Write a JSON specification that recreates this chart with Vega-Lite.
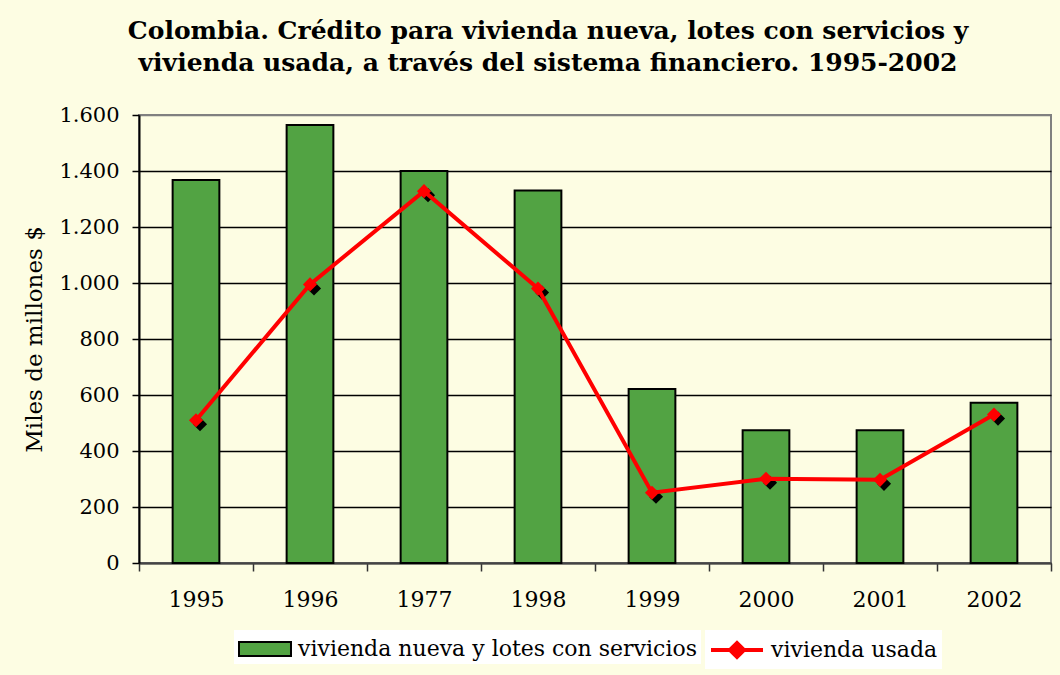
{
  "$schema": "https://vega.github.io/schema/vega-lite/v6.json",
  "autosize": "none",
  "width": 912,
  "height": 448,
  "padding": {"left": 139, "top": 115, "right": 9, "bottom": 112},
  "background": "#fdfde3",
  "config": {
    "font": "DejaVu Serif",
    "view": {"stroke": "#808080", "strokeWidth": 2}
  },
  "title": {
    "text": ["Colombia. Crédito para vivienda nueva, lotes con servicios y", "vivienda usada, a través del sistema financiero. 1995-2002"],
    "font": "DejaVu Serif",
    "fontSize": 25,
    "fontWeight": "bold",
    "color": "black",
    "anchor": "middle",
    "frame": "group",
    "dx": -47,
    "offset": 28,
    "lineHeight": 32
  },
  "data": {
    "values": [
      {"anio": "1995", "nueva": 1368, "usada": 510},
      {"anio": "1996", "nueva": 1564, "usada": 995},
      {"anio": "1977", "nueva": 1400, "usada": 1328},
      {"anio": "1998", "nueva": 1330, "usada": 980},
      {"anio": "1999", "nueva": 621, "usada": 251},
      {"anio": "2000", "nueva": 474, "usada": 301},
      {"anio": "2001", "nueva": 474, "usada": 297},
      {"anio": "2002", "nueva": 572, "usada": 530}
    ]
  },
  "encoding": {
    "x": {
      "field": "anio",
      "type": "ordinal",
      "sort": null,
      "scale": {"paddingInner": 0, "paddingOuter": 0},
      "axis": {
        "title": null,
        "labelAngle": 0,
        "labelFontSize": 22,
        "labelColor": "black",
        "labelPadding": 18,
        "tickBand": "extent",
        "tickSize": 8,
        "tickColor": "#333333",
        "tickWidth": 1.5,
        "domainColor": "#444444",
        "domainWidth": 2
      }
    }
  },
  "layer": [
    {
      "mark": {"type": "bar", "width": {"band": 0.41}, "stroke": "black", "strokeWidth": 2},
      "encoding": {
        "y": {
          "field": "nueva",
          "type": "quantitative",
          "scale": {"domain": [0, 1600], "nice": false},
          "axis": {
            "title": "Miles de millones $",
            "titleFontSize": 23,
            "titleFontWeight": "normal",
            "titleColor": "black",
            "titlePadding": 12,
            "values": [0, 200, 400, 600, 800, 1000, 1200, 1400, 1600],
            "labelExpr": "replace(format(datum.value, ','), ',', '.')",
            "labelFontSize": 21,
            "labelColor": "black",
            "labelPadding": 13,
            "tickSize": 7,
            "tickColor": "black",
            "tickWidth": 1.5,
            "domainColor": "black",
            "domainWidth": 2,
            "grid": true,
            "gridColor": {"condition": {"test": "datum.value >= 1600", "value": "#808080"}, "value": "black"},
            "gridWidth": 1.5
          }
        },
        "fill": {
          "datum": "vivienda nueva y lotes con servicios",
          "type": "nominal",
          "scale": {"range": ["#52a343"]},
          "legend": {
            "title": null,
            "orient": "none",
            "legendX": 95,
            "legendY": 515,
            "direction": "horizontal",
            "fillColor": "white",
            "padding": 4,
            "labelFontSize": 22,
            "labelColor": "black",
            "labelOffset": 30,
            "labelLimit": 0,
            "symbolType": "M-1,-0.5H2.714V0.5H-1Z",
            "symbolSize": 784,
            "symbolStrokeColor": "black",
            "symbolStrokeWidth": 2,
            "symbolOpacity": 1
          }
        }
      }
    },
    {
      "mark": {"type": "point", "shape": "diamond", "filled": true, "size": 200, "color": "black", "opacity": 1, "xOffset": 4, "yOffset": 4},
      "encoding": {
        "y": {"field": "usada", "type": "quantitative"}
      }
    },
    {
      "mark": {"type": "line", "strokeWidth": 4},
      "encoding": {
        "y": {"field": "usada", "type": "quantitative"},
        "stroke": {
          "datum": "vivienda usada",
          "type": "nominal",
          "scale": {"range": ["#ff0000"]},
          "legend": {
            "title": null,
            "orient": "none",
            "legendX": 566,
            "legendY": 515,
            "direction": "horizontal",
            "fillColor": "white",
            "padding": 4,
            "labelFontSize": 22,
            "labelColor": "black",
            "labelOffset": 30,
            "labelLimit": 0,
            "symbolType": "M-1,0H2.714M0.357,0L0.857,-0.5L1.357,0L0.857,0.5Z",
            "symbolSize": 784,
            "symbolFillColor": "#ff0000",
            "symbolStrokeWidth": 4,
            "symbolOpacity": 1
          }
        }
      }
    },
    {
      "mark": {"type": "point", "shape": "diamond", "filled": true, "size": 200, "color": "#ff0000", "opacity": 1},
      "encoding": {
        "y": {"field": "usada", "type": "quantitative"}
      }
    }
  ]
}
